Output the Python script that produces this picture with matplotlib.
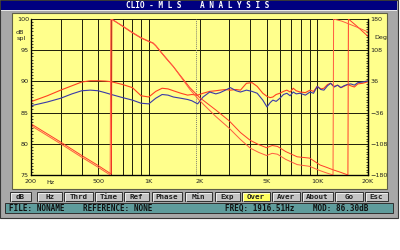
import matplotlib
matplotlib.use('Agg')
import matplotlib.pyplot as plt
from matplotlib.patches import Rectangle
from matplotlib.ticker import MultipleLocator, NullFormatter

# magnitude curves (dB SPL)
freq_m = [200, 250, 300, 350, 400, 450, 500, 550, 600,
          700, 800, 900, 1000, 1100, 1200, 1300, 1400, 1550,
          1700, 1800, 1950, 2100, 2300, 2500, 2650, 2850, 3050,
          3300, 3500, 3800, 4100, 4400, 4750, 5030, 5250, 5450,
          5700, 6000, 6300, 6600, 6900, 7200, 7500, 7900, 8500,
          9060, 9500, 10000, 10500, 10950, 11500, 12000, 12600, 13200,
          13800, 14400, 15100, 15800, 16600, 17400, 18600, 20000]
mag_blue = [86.1, 86.7, 87.3, 88.0, 88.5, 88.6, 88.5, 88.2, 87.9,
            87.4, 87.0, 86.5, 86.4, 87.3, 87.9, 87.8, 87.5, 87.3,
            87.1, 86.9, 86.4, 87.5, 88.3, 88.0, 88.2, 88.6, 89.0,
            88.5, 88.3, 88.6, 88.4, 88.1, 87.0, 85.9, 86.6, 87.0,
            86.8, 87.3, 87.9, 88.1, 87.7, 88.3, 88.0, 88.1, 87.8,
            88.3, 88.1, 89.2, 88.7, 88.6, 89.3, 89.7, 89.1, 89.4,
            89.0, 89.3, 89.5, 89.6, 89.4, 89.8, 89.9, 90.1]
mag_red = [86.75, 87.7, 88.6, 89.3, 89.9, 90.1, 90.1, 90.05, 89.95,
           89.5, 89.0, 87.7, 87.5, 88.4, 88.9, 88.8, 88.5, 88.1,
           87.8, 87.9, 87.8, 88.1, 88.4, 88.5, 88.6, 88.7, 88.6,
           88.7, 88.6, 89.7, 89.8, 89.2, 88.1, 87.6, 87.4, 87.5,
           87.9, 88.1, 88.4, 88.6, 88.3, 88.9, 88.5, 88.3, 88.2,
           88.6, 88.4, 89.2, 88.8, 88.9, 89.5, 89.7, 89.2, 89.4,
           89.0, 89.2, 89.5, 89.3, 89.1, 89.6, 89.7, 89.95]

# phase curves (deg), wrapped as shown on screen
phase_a_freq = [200, 300, 400, 500, 600, 604, 700, 800, 900, 1000, 1060, 1100,
                1200, 1300, 1400, 1500, 1750, 2000, 2500, 3000, 3500, 4000, 4500, 5000,
                5400, 5800, 6500, 7600, 9000, 10400, 11300, 12400, 13800, 15200, 15300,
                17000, 20000]
phase_a = [-62, -104, -135, -158, -178, 180, 163, 148, 136, 128, 124, 118,
           100, 84, 70, 55, 22, -1, -30, -55, -82, -100, -110, -117,
           -112, -114, -126, -138, -141, -157, -162, -168, -174, -180, 180,
           165, 140]
phase_b_freq = [200, 300, 400, 500, 590, 595, 700, 800, 900, 1000, 1060, 1100,
                1200, 1300, 1400, 1500, 1750, 2000, 2500, 3000, 3500, 4000, 4500, 5000,
                5400, 5800, 6500, 7600, 9000, 10400, 11300, 12400, 12500, 14000, 17000,
                20000]
phase_b = [-66, -108, -139, -162, -180, 180, 164, 149, 137, 129, 125, 119,
           101, 85, 70, 54, 18, -8, -45, -72, -98, -118, -128, -135,
           -130, -132, -144, -156, -160, -170, -175, -180, 180, 175, 162,
           150]

cursor_freq = 1916.51
x_major = [200, 500, 1000, 2000, 5000, 10000, 20000]
x_labels = ['200', '500', '1K', '2K', '5K', '10K', '20K']
x_minor = [300, 400, 600, 700, 800, 900, 3000, 4000, 6000, 7000, 8000, 9000]
db_ticks = [75, 80, 85, 90, 95, 100]
deg_ticks = [-180, -108, -36, 36, 108, 180]
buttons = ['dB', 'Hz', 'Thrd', 'Time', 'Ref', 'Phase', 'Min', 'Exp', 'Over',
           'Aver', 'About', 'Go', 'Esc']
button_x = [(10, 31), (37, 62), (64, 93), (95, 122), (124, 149), (152, 182),
            (185, 212), (215, 240), (242, 270), (272, 300), (302, 333),
            (335, 363), (365, 388)]

YEL = '#ffff8c'
MONO = 'DejaVu Sans Mono'

fig = plt.figure(figsize=(4, 2.5), dpi=100, facecolor='white')

# window chrome drawn in pixel coordinates
bg = fig.add_axes([0, 0, 1, 1])
bg.set_xlim(0, 400)
bg.set_ylim(250, 0)
bg.axis('off')
bg.add_patch(Rectangle((0, 0), 398, 218, fc='#a8a8a8', ec='#383838', lw=0.8))
bg.add_patch(Rectangle((1, 1), 396, 8.5, fc='#000080', ec='none'))
bg.add_patch(Rectangle((1, 9.5), 396, 1.5, fc='#e8e8e8', ec='none'))
bg.text(198, 5.4, 'CLIO - M L S    A N A L Y S I S', color='white', family=MONO,
        weight='bold', fontsize=5.6, ha='center', va='center')
bg.add_patch(Rectangle((12, 13), 375, 176, fc=YEL, ec='#606048', lw=0.8))
for name, (x0, x1) in zip(buttons, button_x):
    fc = '#ffff60' if name == 'Over' else '#c4c4c4'
    bg.add_patch(Rectangle((x0, 192), x1 - x0, 9, fc=fc, ec='#303030', lw=0.7))
    bg.plot([x0 + 0.8, x0 + 0.8, x1 - 0.8], [200.5, 192.8, 192.8], color='white', lw=0.5)
    bg.text((x0 + x1) / 2, 196.8, name, family=MONO, weight='bold', fontsize=5.4,
            color='#202020', ha='center', va='center')
bg.add_patch(Rectangle((5, 203), 388, 10, fc='#5f9c9c', ec='#303030', lw=0.7))
bg.text(9, 208.3, 'FILE: NONAME    REFERENCE: NONE', family=MONO, weight='bold',
        fontsize=5.5, color='#101010', ha='left', va='center')
bg.text(225, 208.3, 'FREQ: 1916.51Hz    MOD: 86.30dB', family=MONO, weight='bold',
        fontsize=5.5, color='#101010', ha='left', va='center')
bg.text(20, 32, 'dB', fontsize=4.6, color='#202020', ha='center', va='center')
bg.text(21, 38.5, 'spl', fontsize=4.6, color='#202020', ha='center', va='center')
bg.text(50, 182.5, 'Hz', fontsize=4.6, color='#202020', ha='center', va='center')
bg.text(381, 38, 'Deg', fontsize=4.6, color='#202020', ha='center', va='center')

# plot area
ax = fig.add_axes([31 / 400, 1 - 175 / 250, 337 / 400, 156 / 250])
ax.set_facecolor(YEL)
ax.set_xscale('log')
ax.set_xlim(200, 20000)
ax.set_ylim(75, 100)
ax.set_xticks(x_major)
ax.set_xticklabels(x_labels)
ax.set_xticks(x_minor, minor=True)
ax.xaxis.set_minor_formatter(NullFormatter())
ax.set_yticks(db_ticks)
ax.yaxis.set_minor_locator(MultipleLocator(0.5))
ax.tick_params(axis='x', which='both', length=0, pad=3, labelsize=4.6, labelcolor='#202020')
ax.tick_params(axis='y', which='major', length=0, pad=1.5, labelsize=4.6, labelcolor='#202020')
ax.tick_params(axis='y', which='minor', direction='in', length=1.5, width=0.5)
ax.grid(True, which='both', axis='x', color='#1c1c08', lw=0.7)
ax.grid(True, which='major', axis='y', color='#1c1c08', lw=0.7)
ax.axvline(cursor_freq, color='#808070', lw=0.7, ls=(0, (1, 1)))
for s in ['left', 'bottom', 'right']:
    ax.spines[s].set_color('black')
    ax.spines[s].set_linewidth(0.9)
ax.spines['top'].set_visible(False)

ax.plot(freq_m, mag_red, color='#ff4020', lw=0.8, zorder=3)
ax.plot(freq_m, mag_blue, color='#3a3aa8', lw=0.8, zorder=4)

ax2 = ax.twinx()
ax2.set_ylim(-180, 180)
ax2.set_yticks(deg_ticks)
ax2.yaxis.set_minor_locator(MultipleLocator(6))
ax2.tick_params(axis='y', which='major', length=0, pad=1.5, labelsize=4.6, labelcolor='#202020')
ax2.tick_params(axis='y', which='minor', direction='in', length=1.5, width=0.5)
ax2.spines['top'].set_visible(False)
ax2.spines['right'].set_linewidth(0.9)
ax2.plot(phase_a_freq, phase_a, color='#ff3a2a', lw=0.7)
ax2.plot(phase_b_freq, phase_b, color='#ff5a40', lw=0.7)

fig.savefig('out.png', dpi=100, facecolor='white')
